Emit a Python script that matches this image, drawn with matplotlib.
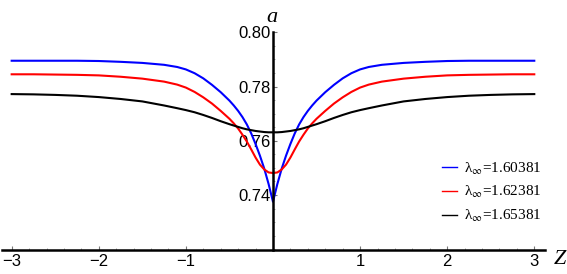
import matplotlib.pyplot as plt
from matplotlib.ticker import MultipleLocator
from matplotlib.lines import Line2D

# half profile a(Z) for Z >= 0; the curves are symmetric in Z
z_half = [0.0, 0.05, 0.1, 0.15, 0.2, 0.25, 0.3, 0.35, 0.4, 0.45, 0.5,
          0.6, 0.7, 0.8, 0.9, 1.0, 1.1, 1.25, 1.5, 1.75, 2.0, 2.25, 2.5, 2.75, 3.0]

a_blue = [0.7375, 0.7440, 0.7497, 0.7545, 0.7588, 0.7627, 0.7660, 0.7687, 0.7710, 0.7730, 0.7748,
          0.7779, 0.7806, 0.7830, 0.7849, 0.7863, 0.7872, 0.7880, 0.7887, 0.7891, 0.7894,
          0.7895, 0.7895, 0.7895, 0.7895]

a_red = [0.7481, 0.7483, 0.7494, 0.7512, 0.7538, 0.7568, 0.7597, 0.7622, 0.7645, 0.7664, 0.7681,
         0.7710, 0.7737, 0.7760, 0.7780, 0.7796, 0.7807, 0.7818, 0.7829, 0.7836, 0.7841,
         0.7843, 0.7844, 0.7845, 0.7845]

a_black = [0.7631, 0.7631, 0.7632, 0.7634, 0.7636, 0.7639, 0.7642, 0.7646, 0.7651, 0.7656, 0.7661,
           0.7672, 0.7684, 0.7695, 0.7705, 0.7713, 0.7720, 0.7730, 0.7745, 0.7754, 0.7761,
           0.7766, 0.7769, 0.7771, 0.7772]

labels = ["1.60381", "1.62381", "1.65381"]
colors = ["#0000ff", "#ff0000", "#000000"]


def mirror(zs, vals):
    # full curve from -3 to 3
    return [-v for v in zs[:0:-1]] + zs, vals[:0:-1] + vals


plt.rcParams['font.family'] = ['Liberation Sans', 'DejaVu Sans']
plt.rcParams['mathtext.fontset'] = 'stix'

fig = plt.figure(figsize=(5.67, 2.74), dpi=100)
ax = fig.add_axes([2 / 567, 24 / 274, 543 / 567, 218 / 274])

for a, c in zip([a_blue, a_red, a_black], colors):
    zz, aa = mirror(z_half, a)
    ax.plot(zz, aa, color=c, lw=1.5)

ax.set_xlim(-3.111, 3.123)
ax.set_ylim(0.7197, 0.8001)

# axes crossing, Mathematica style
ax.spines['left'].set_position(('data', 0))
ax.spines['top'].set_visible(False)
ax.spines['right'].set_visible(False)
for s in ('left', 'bottom'):
    ax.spines[s].set_linewidth(1.8)

ax.set_xticks([-3, -2, -1, 1, 2, 3])
ax.set_yticks([0.74, 0.76, 0.78, 0.80])
ax.set_yticklabels(["0.74", "0.76", "0.78", "0.80"])
ax.xaxis.set_minor_locator(MultipleLocator(0.2))
ax.yaxis.set_minor_locator(MultipleLocator(0.005))
ax.tick_params(which='major', direction='in', length=3, width=0.8, color='#777777',
               labelsize=12)
ax.tick_params(axis='x', which='major', pad=3)
ax.tick_params(axis='y', which='major', pad=2)
ax.tick_params(which='minor', direction='in', length=1.5, width=0.6, color='#999999')

fig.text(272 / 567, 1 - 17 / 274, "a", family='Liberation Serif', style='italic',
         fontsize=16, ha='center', va='center')
fig.text(560 / 567, 1 - 259 / 274, "Z", family='Liberation Serif', style='italic',
         fontsize=16, ha='center', va='center')

handles = [Line2D([], [], color=c, lw=1.0) for c in colors]
ax.legend(handles, [r"λ$_{\infty}$=" + s for s in labels],
          loc='upper left', bbox_to_anchor=(434 / 567, 1 - 153 / 274),
          bbox_transform=fig.transFigure, frameon=False,
          prop={'family': 'Liberation Serif', 'size': 11},
          handlelength=1.0, handletextpad=0.45, labelspacing=0.5, borderpad=0)

fig.savefig("out.png", dpi=100)
